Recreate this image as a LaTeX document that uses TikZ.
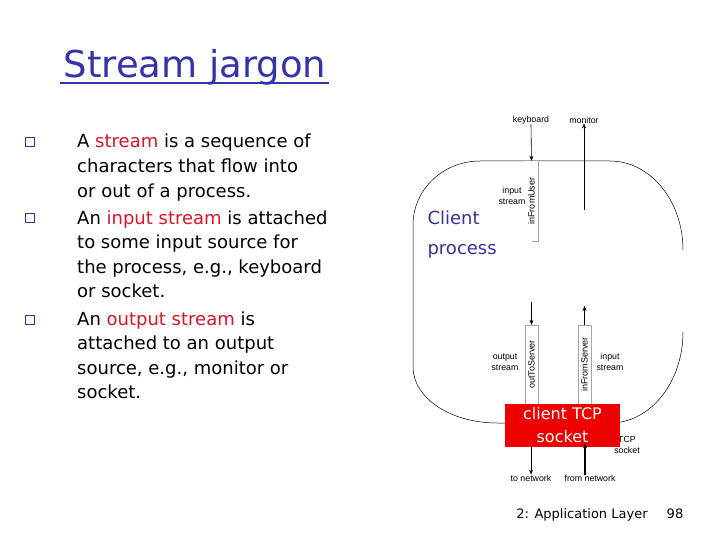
\documentclass[tikz,border=0pt]{standalone}
\usepackage{fontspec}
\usepackage{graphicx}
\setmainfont{DejaVu Sans}
\newfontfamily\labelfont{Liberation Sans}
\usetikzlibrary{arrows.meta}
\definecolor{titleblue}{RGB}{51,51,170}
\definecolor{procblue}{RGB}{51,51,153}
\definecolor{keyred}{RGB}{220,20,40}
\definecolor{sockred}{RGB}{238,0,0}

\begin{document}
\begin{tikzpicture}[x=1pt, y=-1pt,
    body/.style={anchor=base west, align=left, inner sep=0pt, font=\fontsize{18}{24.5}\selectfont},
    bulletbox/.style={draw=titleblue, line width=0.8pt, minimum size=9pt, inner sep=0pt},
    small/.style={font=\labelfont\fontsize{8.8}{11}\selectfont, align=center, inner sep=0pt},
    streambox/.style={draw=gray!70, fill=white, minimum width=13pt, inner sep=0pt, font=\labelfont\fontsize{9}{9}\selectfont},
    sockbox/.style={fill=sockred, text=white, align=center, minimum width=115pt, minimum height=43pt, inner sep=0pt, font=\fontsize{16}{23}\selectfont},
    flow/.style={-{Stealth[length=5pt,width=4pt]}, line width=0.6pt}]
  \useasboundingbox (0,0) rectangle (720,540);

  % title
  \node[titleblue, font=\fontsize{37}{37}\selectfont, inner sep=0pt, anchor=base] (title) at (195,78) {Stream jargon};
  \draw[titleblue, line width=2pt] ([xshift=-3pt,yshift=-5pt]title.base west) -- ([xshift=2pt,yshift=-5pt]title.base east);

  % bullet text (base = last line)
  \node[bulletbox] (b1) at (30,142) {};
  \node[body] (t1) at (77,197) {A \textcolor{keyred}{stream} is a sequence of\\characters that flow into\\or out of a process.};
  \node[bulletbox] (b2) at (30,218) {};
  \node[body] (t2) at (77,297.5) {An \textcolor{keyred}{input stream} is attached\\to some input source for\\the process, e.g., keyboard\\or socket.};
  \node[bulletbox] (b3) at (30,320) {};
  \node[body] (t3) at (77,398.5) {An \textcolor{keyred}{output stream} is\\attached to an output\\source, e.g., monitor or\\socket.};

  % client process outline
  \draw[line width=0.5pt] (683,332) arc[start angle=0, end angle=90, x radius=73, y radius=91]
    -- (497,423) arc[start angle=90, end angle=180, x radius=84, y radius=56]
    -- (413,225) arc[start angle=180, end angle=270, x radius=67, y radius=64]
    -- (610,161) arc[start angle=-90, end angle=0, x radius=73, y radius=89];
  \node[anchor=west, procblue, align=left, font=\fontsize{18}{30}\selectfont] (client) at (424,235) {Client\\process};

  % streams
  \node[small] (kbd) at (531,120) {keyboard};
  \node[small] (mon) at (584,120) {monitor};
  \node[streambox, draw=none, minimum height=80pt] (inuser) at (531.5,201) {\rotatebox{90}{inFromUser}};
  \draw[gray!70] (inuser.north east) -- (inuser.south east) -- ++(-6,0);
  \node[small] (inlabel) at (512,196) {input\\stream};
  \draw[flow] (kbd.south) -- (inuser.north);
  \coordinate (monfoot) at (584,210);
  \draw[flow] (monfoot) -- (mon.south);

  \node[small] (tcplabel) at (627,445) {TCP\\socket};
  \node[streambox, minimum height=79pt] (outsrv) at (531.5,364.5) {\rotatebox{90}{outToServer}};
  \node[streambox, minimum height=79pt] (insrv) at (584.5,364.5) {\rotatebox{90}{inFromServer}};
  \node[small] (outlabel) at (505,362) {output\\stream};
  \node[small] (inlabel2) at (610,362) {input\\stream};
  \coordinate (outtop) at (531.5,302);
  \coordinate (intop) at (584.5,306);
  \draw[flow] (outtop) -- (outsrv.north);
  \draw[flow] (insrv.north) -- (intop);

  % socket
  \node[sockbox] (sock) at (562.5,425.5) {client TCP\\socket};
  \node[small] (tonet) at (531,478) {to network};
  \node[small] (fromnet) at (590,478) {from network};
  \draw[flow] (sock.south -| tonet) -- (tonet.north);
  \draw[flow, line width=1.6pt] ([xshift=-5pt]fromnet.north) -- ([xshift=-5pt,yshift=4pt]fromnet.north |- sock.south);

  % footer
  \node[font=\fontsize{13}{13}\selectfont, anchor=base, inner sep=0pt] (chapter) at (582,518) {2: Application Layer};
  \node[font=\fontsize{13}{13}\selectfont, anchor=base, inner sep=0pt] (page) at (675,518) {98};
\end{tikzpicture}
\end{document}
